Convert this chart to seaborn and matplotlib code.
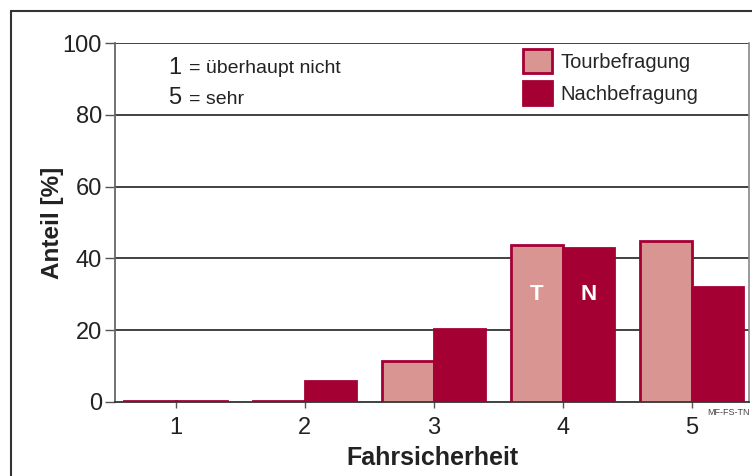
import matplotlib
matplotlib.use("Agg")
import matplotlib.pyplot as plt
import seaborn as sns
import pandas as pd
from matplotlib.patches import Rectangle

categories = ["1", "2", "3", "4", "5"]
tour = [0.4, 0.4, 11.3, 43.7, 44.8]
nach = [0.4, 5.9, 20.2, 42.9, 32.0]
series = ["Tourbefragung", "Nachbefragung"]
yticks = [0, 20, 40, 60, 80, 100]

df = pd.DataFrame({
    "Fahrsicherheit": categories * 2,
    "Anteil": tour + nach,
    "Serie": [series[0]] * 5 + [series[1]] * 5,
})

sns.set_theme(style="white")
plt.rcParams["font.family"] = ["Liberation Sans", "DejaVu Sans"]

light = "#d89592"
dark = "#a50034"
txt = "#222222"

fig = plt.figure(figsize=(7.52, 4.76), dpi=100)
ax = fig.add_axes([115/752, 1-402/476, (749-115)/752, (402-43)/476])

sns.barplot(data=df, x="Fahrsicherheit", y="Anteil", hue="Serie",
            palette={series[0]: light, series[1]: dark}, width=0.8,
            saturation=1, edgecolor=dark, linewidth=2, ax=ax, zorder=3)

ax.set_ylim(0, 100)
ax.set_xlim(-0.47, 4.445)
ax.set_yticks(yticks)
ax.set_yticklabels([str(v) for v in yticks], fontsize=17)
ax.tick_params(axis="y", left=True, length=7.5, width=1, color="#555555", pad=2, labelcolor=txt)
ax.tick_params(axis="x", bottom=True, length=4.5, width=1, color="#555555", pad=6.5, labelsize=17, labelcolor=txt)
for v in yticks[1:]:
    ax.axhline(v, color="#333333", lw=1.3, zorder=1)
ax.spines["top"].set_visible(False)
ax.spines["left"].set_color("#666666")
ax.spines["left"].set_linewidth(1.3)
ax.spines["right"].set_color("#888888")
ax.spines["right"].set_linewidth(1.2)
ax.spines["bottom"].set_color("#333333")
ax.spines["bottom"].set_linewidth(1.3)

ax.set_xlabel("Fahrsicherheit", fontsize=18, fontweight="bold", labelpad=5, color=txt)
ax.set_ylabel("Anteil [%]", fontsize=17.5, fontweight="bold", labelpad=-1, color=txt)

handles, labels = ax.get_legend_handles_labels()
ax.legend(handles, labels, loc="upper left", bbox_to_anchor=(0.6435, 0.983),
          frameon=False, fontsize=14.5, handlelength=1.44, handleheight=1.45,
          handletextpad=0.4, labelspacing=0.42, borderpad=0, borderaxespad=0)

# annotation text
ax.text(0.0836, 0.931, "1", transform=ax.transAxes, fontsize=17, va="center", ha="left", color=txt)
ax.text(0.1167, 0.928, "= überhaupt nicht", transform=ax.transAxes, fontsize=14, va="center", ha="left", color=txt)
ax.text(0.0836, 0.847, "5", transform=ax.transAxes, fontsize=17, va="center", ha="left", color=txt)
ax.text(0.1167, 0.844, "= sehr", transform=ax.transAxes, fontsize=14, va="center", ha="left", color=txt)

ax.text(3 - 0.2, 30, "T", fontsize=16, fontweight="bold", color="white", ha="center", va="center", zorder=5)
ax.text(3 + 0.2, 30, "N", fontsize=16, fontweight="bold", color="white", ha="center", va="center", zorder=5)

ax.text(1.0016, -0.017, "MF-FS-TN", transform=ax.transAxes, fontsize=6.5, color="#444444", ha="right", va="top")

fig.patches.append(Rectangle((11/752, -0.1), 1.2, 1.1 - 11/476, transform=fig.transFigure,
                             fill=False, edgecolor="#333333", lw=1.5))

fig.savefig("out.png", dpi=100)
